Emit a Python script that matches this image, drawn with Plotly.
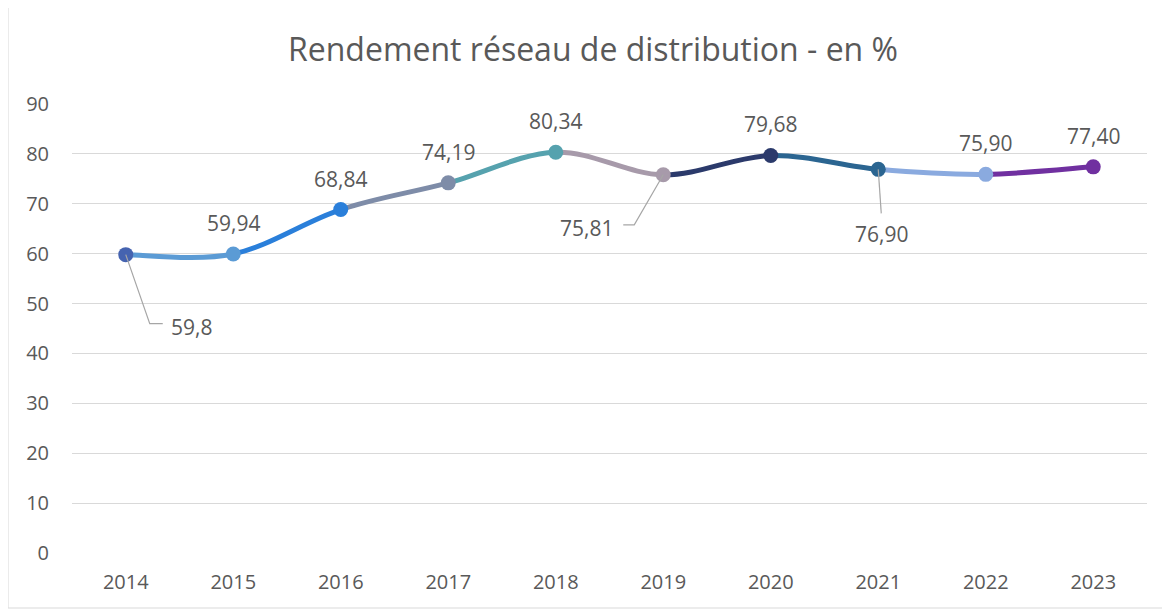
import plotly.graph_objects as go

# ---- data ----
years = [2014, 2015, 2016, 2017, 2018, 2019, 2020, 2021, 2022, 2023]
values = [59.8, 59.94, 68.84, 74.19, 80.34, 75.81, 79.68, 76.90, 75.90, 77.40]
labels = ["59,8", "59,94", "68,84", "74,19", "80,34", "75,81", "79,68", "76,90", "75,90", "77,40"]
point_colors = ["#4563B0", "#5B9BD5", "#2A7FDA", "#7E8CA8", "#56A2AE",
                "#A79AAA", "#2B3A6B", "#2B6591", "#8AAADF", "#7030A0"]
y_ticks = [0, 10, 20, 30, 40, 50, 60, 70, 80, 90]
title_text = "Rendement réseau de distribution - en %"

# label placement (pixel offsets from the point) and leader paths
label_offsets = {
    0: (66, -72, "M 0,0 L 24,-69 L 37,-69"),
    5: (-77, -53, "M 0,0 L -29,-50 L -40,-50"),
    7: (3, -65, "M 0,0 L 3,-44"),
}
ABOVE_SHIFT = 31

FONT = "Open Sans"
TXT = "#595959"
GRID = "#D9D9D9"

fig = go.Figure()

# smoothed segments, each coloured like the point it leads to
n = len(years)
shapes = []
for i in range(n - 1):
    p_prev = (years[max(i - 1, 0)], values[max(i - 1, 0)])
    p0 = (years[i], values[i])
    p1 = (years[i + 1], values[i + 1])
    p_next = (years[min(i + 2, n - 1)], values[min(i + 2, n - 1)])
    c1 = (p0[0] + (p1[0] - p_prev[0]) / 6, p0[1] + (p1[1] - p_prev[1]) / 6)
    c2 = (p1[0] - (p_next[0] - p0[0]) / 6, p1[1] - (p_next[1] - p0[1]) / 6)
    path = (f"M {p0[0]},{p0[1]} C {c1[0]},{c1[1]} {c2[0]},{c2[1]} {p1[0]},{p1[1]}")
    shapes.append(dict(type="path", path=path, xref="x", yref="y",
                       line=dict(color=point_colors[i + 1], width=5),
                       layer="between"))

# leader lines
for idx, (dx, dy, lpath) in label_offsets.items():
    shapes.append(dict(type="path", xref="x", yref="y",
                       xsizemode="pixel", ysizemode="pixel",
                       xanchor=years[idx], yanchor=values[idx],
                       path=lpath, line=dict(color="#A6A6A6", width=1.2),
                       layer="above"))

# chart border
shapes.append(dict(type="rect", xref="paper", yref="paper",
                   x0=-0.0595, x1=1.0167, y0=-0.1225, y1=1.2227,
                   line=dict(color=GRID, width=1), layer="below"))

fig.add_trace(go.Scatter(
    x=years, y=values, mode="markers",
    marker=dict(color=point_colors, size=15, line=dict(width=0)),
    hoverinfo="x+y", showlegend=False,
))

annotations = []
for i, (x, y, t) in enumerate(zip(years, values, labels)):
    if i in label_offsets:
        dx, dy, _ = label_offsets[i]
    else:
        dx, dy = 0, ABOVE_SHIFT
    annotations.append(dict(x=x, y=y, xref="x", yref="y", text=t, showarrow=False,
                            xshift=dx, yshift=dy,
                            font=dict(family=FONT, size=21, color=TXT)))

fig.update_layout(
    width=1170, height=611,
    margin=dict(l=64, r=31, t=96, b=66),
    paper_bgcolor="white", plot_bgcolor="white",
    title=dict(text=title_text, x=585 / 1170, xref="container", xanchor="center",
               y=1 - 42 / 611, yref="container", yanchor="middle",
               font=dict(family=FONT, size=32, color=TXT)),
    shapes=shapes,
    annotations=annotations,
    showlegend=False,
    xaxis=dict(range=[2013.5, 2023.5], tickmode="array", tickvals=years,
               ticktext=[str(y) for y in years], showgrid=False, zeroline=False,
               showline=False, ticks="", ticklabelstandoff=15,
               tickfont=dict(family=FONT, size=20, color=TXT), fixedrange=True),
    yaxis=dict(range=[0, 90], tickmode="array", tickvals=y_ticks,
               showgrid=True, gridcolor=GRID, gridwidth=1, zeroline=False,
               showline=False, ticks="", ticklabelstandoff=22,
               tickfont=dict(family=FONT, size=20, color=TXT), fixedrange=True),
)

fig.write_html("out.html")
